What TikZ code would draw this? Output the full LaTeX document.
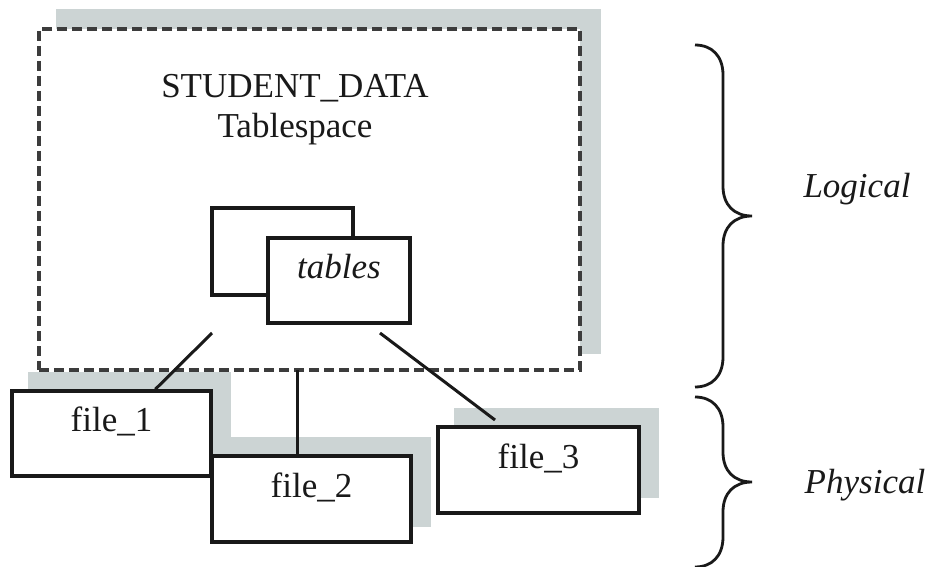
\documentclass[tikz,border=0pt]{standalone}
\usepackage{fontspec}
\setmainfont{Liberation Serif}
\usetikzlibrary{backgrounds}
\definecolor{shadowgray}{RGB}{204,212,212}
\definecolor{ink}{RGB}{25,25,25}
\begin{document}
\begin{tikzpicture}[x=1pt,y=-1pt,
  every node/.style={font=\fontsize{35}{40}\selectfont, text=ink},
  box/.style={draw=ink, line width=3.4pt, fill=white, inner sep=0pt,
              text height=20pt, text depth=24pt},
  filebox/.style={box, minimum width=199pt, minimum height=86pt},
  tablebox/.style={box, minimum width=142pt, minimum height=86pt},
  spacebox/.style={box, draw=ink!85, line width=3.2pt, dash pattern=on 10pt off 5pt,
              minimum width=541pt, minimum height=341pt},
  shade/.style={fill=shadowgray},
  link/.style={draw=ink, line width=3pt},
  curly/.style={draw=ink, line width=2.8pt}
]
\useasboundingbox (0,0) rectangle (930,567);

% tablespace with its two stacked table boxes
\node[spacebox] (ts) at (309.5,199.5) {};
\node[anchor=base] (title) at (295,98) {STUDENT\_DATA};
\node[anchor=base] (subtitle) at (295,138) {Tablespace};
\node[tablebox, minimum width=141pt, minimum height=87pt] (back) at (282.5,251.5) {};
\node[tablebox, minimum height=85pt] (front) at (339,280.5) {\itshape tables};

% data files
\node[filebox, minimum height=85pt] (f1) at (111.5,433.5) {file\_1};
\node[filebox] (f2) at (311.5,499) {file\_2};
\node[filebox, minimum width=201pt] (f3) at (538.5,470) {file\_3};

% drop shadows and page background
\begin{scope}[on background layer]
  \fill[white] (0,0) rectangle (930,567);
  \fill[shade] ([shift={(19,-18)}]ts.south west) rectangle ([shift={(19,-18)}]ts.north east);
  \foreach \f in {f1,f2,f3}
    \fill[shade] ([shift={(18,-17)}]\f.south west) rectangle ([shift={(18,-17)}]\f.north east);
\end{scope}

% tables-to-file connectors
\coordinate (l1) at (212,333);
\coordinate (l2) at (297,370);
\coordinate (l3) at (380,333);
\coordinate (e3) at (495,420);
\draw[link] (l1) -- ([xshift=145pt]f1.north west);
\draw[link] (l2) -- (l2 |- f2.north);
\draw[link] (l3) -- (e3);

% braces and their labels
\draw[curly] (695,45) .. controls (712,45) and (723,56) .. (723,75)
  -- (723,186) .. controls (723,205) and (734,216) .. (752,216)
  .. controls (734,216) and (723,227) .. (723,246)
  -- (723,357) .. controls (723,376) and (712,387) .. (695,387);
\node[anchor=base] (logical) at (857,198) {\itshape Logical};

\draw[curly] (695,397) .. controls (712,397) and (723,408) .. (723,427)
  -- (723,452) .. controls (723,471) and (734,482) .. (752,482)
  .. controls (734,482) and (723,493) .. (723,512)
  -- (723,537) .. controls (723,556) and (712,567) .. (695,567);
\node[anchor=base] (physical) at (865,493) {\itshape Physical};
\end{tikzpicture}
\end{document}
